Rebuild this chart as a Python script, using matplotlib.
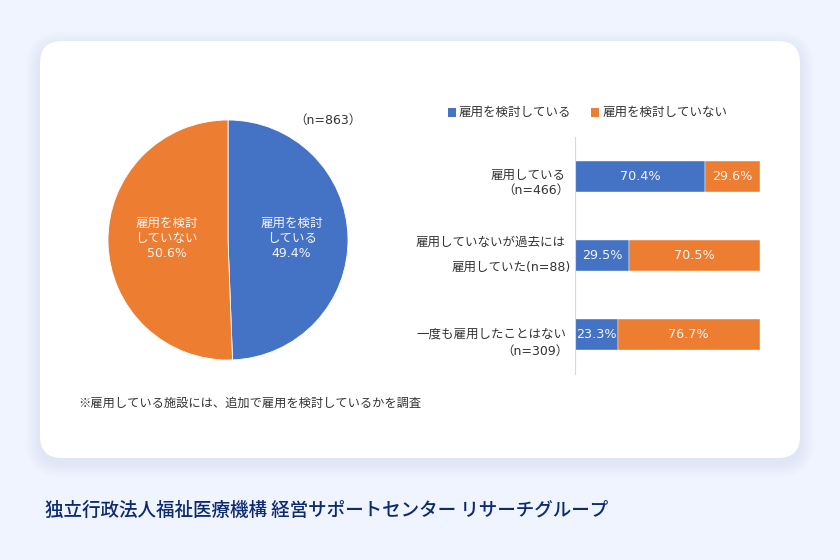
import matplotlib
matplotlib.use("Agg")
import matplotlib.pyplot as plt
from matplotlib.patches import FancyBboxPatch, Rectangle

plt.rcParams['font.family'] = ['Noto Sans CJK JP', 'DejaVu Sans']
# wider latin digits, closer to the original labels
WIDE = ['DejaVu Sans', 'Noto Sans CJK JP']

# data
pie_values = [49.4, 50.6]
pie_labels = ["雇用を検討\nしている\n49.4%", "雇用を検討\nしていない\n50.6%"]
series_names = ["雇用を検討している", "雇用を検討していない"]
considering = [70.4, 29.5, 23.3]
not_considering = [29.6, 70.5, 76.7]
n_total = "（n=863）"
note = "※雇用している施設には、追加で雇用を検討しているかを調査"
footer = "独立行政法人福祉医療機構 経営サポートセンター リサーチグループ"
cat_lines = [
    ["雇用している", "（n=466）"],
    ["雇用していないが過去には", "雇用していた(n=88)"],
    ["一度も雇用したことはない", "（n=309）"],
]

BLUE = "#4472C4"
ORANGE = "#ED7D31"
BG = "#EFF4FE"
W, H = 840, 560

fig = plt.figure(figsize=(8.4, 5.6), dpi=100, facecolor=BG)

# background in pixel coordinates
bg = fig.add_axes([0, 0, 1, 1])
bg.set_xlim(0, W)
bg.set_ylim(H, 0)
bg.axis("off")

# soft card shadow
for grow in range(14, 0, -2):
    bg.add_patch(FancyBboxPatch((40 - grow, 46 - grow), 760 + 2 * grow, 417 + 2 * grow,
                                boxstyle="round,pad=0,rounding_size=%d" % (22 + grow),
                                fc="#8A9CC0", ec="none", alpha=0.016))
bg.add_patch(FancyBboxPatch((40, 41), 760, 417, boxstyle="round,pad=0,rounding_size=22",
                            fc="white", ec="none"))

# pie
ax_pie = fig.add_axes([108 / W, 1 - 360 / H, 240 / W, 240 / H])
wedges, _ = ax_pie.pie(pie_values, colors=[BLUE, ORANGE], startangle=90, counterclock=False,
                       radius=1, wedgeprops=dict(edgecolor="white", linewidth=0.6))
ax_pie.set_xlim(-1, 1)
ax_pie.set_ylim(-1, 1)
ax_pie.text(0.53, 0.015, pie_labels[0], color="#F6F6F6", fontsize=9, family=WIDE, ha="center",
            va="center", linespacing=1.22)
ax_pie.text(-0.51, 0.015, pie_labels[1], color="#F6F6F6", fontsize=9, family=WIDE, ha="center",
            va="center", linespacing=1.22)

# stacked bars
ax_bar = fig.add_axes([575 / W, 1 - 374 / H, 184.5 / W, 237 / H])
ax_bar.patch.set_alpha(0)
ypos = range(len(considering))
ax_bar.barh(ypos, considering, height=0.39, color=BLUE, edgecolor="white", linewidth=0.3)
ax_bar.barh(ypos, not_considering, left=considering, height=0.39, color=ORANGE,
            edgecolor="white", linewidth=0.3)
ax_bar.set_xlim(0, 100)
ax_bar.set_ylim(2.5, -0.5)
ax_bar.set_xticks([])
ax_bar.set_yticks([])
for side in ["top", "right", "bottom"]:
    ax_bar.spines[side].set_visible(False)
ax_bar.spines["left"].set_color("#D9D9D9")
ax_bar.spines["left"].set_linewidth(0.8)
for i in ypos:
    ax_bar.text(considering[i] / 2, i, "%.1f%%" % considering[i], color="#F6F6F6", fontsize=9.2,
                family=WIDE, ha="center", va="center")
    ax_bar.text(considering[i] + not_considering[i] / 2, i, "%.1f%%" % not_considering[i],
                color="#F6F6F6", fontsize=9.2, family=WIDE, ha="center", va="center")

# category labels, each line placed on its own
TXT = "#333333"
cat_pos = [[(566, 175), (569, 190)], [(566, 242), (571, 267)], [(566, 334), (569, 351)]]
for lines, places in zip(cat_lines, cat_pos):
    for line, (x, y) in zip(lines, places):
        bg.text(x, y, line, color=TXT, fontsize=9, family=WIDE, ha="right", va="center", zorder=5)

# legend
bg.add_patch(Rectangle((448, 108), 8, 9, fc=BLUE, ec="none", zorder=5))
bg.text(459, 112, series_names[0], color=TXT, fontsize=9, ha="left", va="center", zorder=5)
bg.add_patch(Rectangle((591, 108), 8, 9, fc=ORANGE, ec="none", zorder=5))
bg.text(603, 112, series_names[1], color=TXT, fontsize=9, ha="left", va="center", zorder=5)

bg.text(328, 120, n_total, color=TXT, fontsize=9, family=WIDE, ha="center", va="center", zorder=5)
bg.text(78, 403, note, color=TXT, fontsize=8.82, ha="left", va="center", zorder=5)
bg.text(45, 510, footer, color="#0B2A72", fontsize=13.35, fontweight="medium", ha="left",
        va="center", zorder=5)

fig.savefig("out.png", dpi=100, facecolor=BG)
